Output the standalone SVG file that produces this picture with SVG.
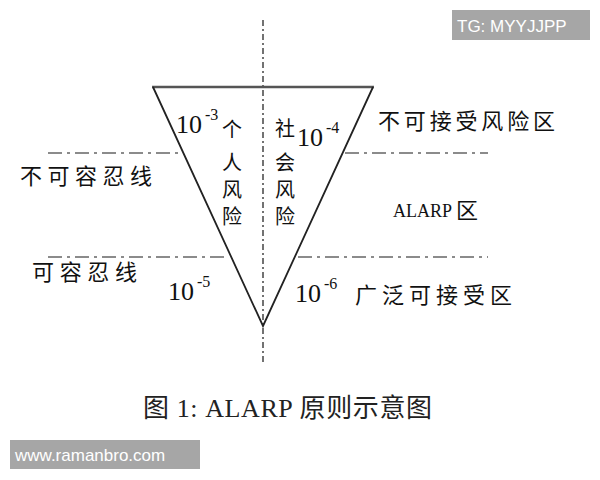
<svg xmlns="http://www.w3.org/2000/svg" width="600" height="480" viewBox="0 0 600 480">
<style>
.cn{font-family:"Noto Sans CJK SC","Noto Sans CJK JP",sans-serif;font-size:22px;fill:#111}
.vc{font-family:"Noto Sans CJK SC","Noto Sans CJK JP",sans-serif;font-size:20px;fill:#111;text-anchor:middle}
.num{font-family:"Liberation Serif",serif;font-size:26px;fill:#111}
.sup{font-family:"Liberation Serif",serif;font-size:16px;fill:#111}
.dd{stroke:#666;stroke-width:1.6;stroke-dasharray:14 5 3 5;fill:none}
.wm{font-family:"Liberation Sans",Arial,sans-serif;font-size:17px;fill:#fff}
</style>
<rect width="600" height="480" fill="#fff"/>
<g id="connectors">
<line x1="263" y1="20" x2="263" y2="362" stroke="#444" stroke-width="1.5" stroke-dasharray="6 3 2 3"/>
<line class="dd" x1="48" y1="153" x2="182" y2="153"/>
<line class="dd" x1="345" y1="153" x2="488" y2="153"/>
<line class="dd" x1="48" y1="257" x2="228" y2="257"/>
<line class="dd" x1="298" y1="257" x2="488" y2="257"/>
</g>
<g id="triangle">
<line x1="152" y1="87" x2="374" y2="87" stroke="#555" stroke-width="2.5"/>
<polyline points="153,87 263,326 373,87" fill="none" stroke="#222" stroke-width="1.8"/>
</g>
<g id="individual-risk">
<text class="num" x="176" y="133">10</text><text class="sup" x="205" y="120">-3</text>
<text class="vc" x="232" y="137">个</text>
<text class="vc" x="232" y="170">人</text>
<text class="vc" x="232" y="197">风</text>
<text class="vc" x="232" y="224">险</text>
</g>
<g id="societal-risk">
<text class="vc" x="285" y="136">社</text>
<text class="vc" x="285" y="170">会</text>
<text class="vc" x="285" y="197">风</text>
<text class="vc" x="285" y="224">险</text>
<text class="num" x="297" y="146">10</text><text class="sup" x="326" y="133">-4</text>
</g>
<g id="lower-values">
<text class="num" x="168" y="300">10</text><text class="sup" x="197" y="287">-5</text>
<text class="num" x="295" y="302">10</text><text class="sup" x="324" y="289">-6</text>
</g>
<g id="labels">
<text class="cn" x="378" y="129" textLength="177">不可接受风险区</text>
<text class="cn" x="20" y="184" textLength="132">不可容忍线</text>
<text x="393" y="217" font-family="Liberation Serif,serif" font-size="18" fill="#111">ALARP</text>
<text class="cn" x="456" y="218" font-size="19">区</text>
<text class="cn" x="32" y="280" textLength="105">可容忍线</text>
<text class="cn" x="355" y="303" textLength="157">广泛可接受区</text>
</g>
<g id="caption">
<text x="143" y="417" font-family="Liberation Serif,'Noto Sans CJK SC',serif" font-size="26" fill="#222" textLength="289">图 1: ALARP 原则示意图</text>
</g>
<g id="watermarks">
<rect x="452" y="10" width="138" height="30" fill="#a6a6a6"/>
<text class="wm" x="457" y="32">TG: MYYJJPP</text>
<rect x="10" y="440" width="190" height="29" fill="#a6a6a6"/>
<text class="wm" x="15" y="461">www.ramanbro.com</text>
</g>
</svg>
